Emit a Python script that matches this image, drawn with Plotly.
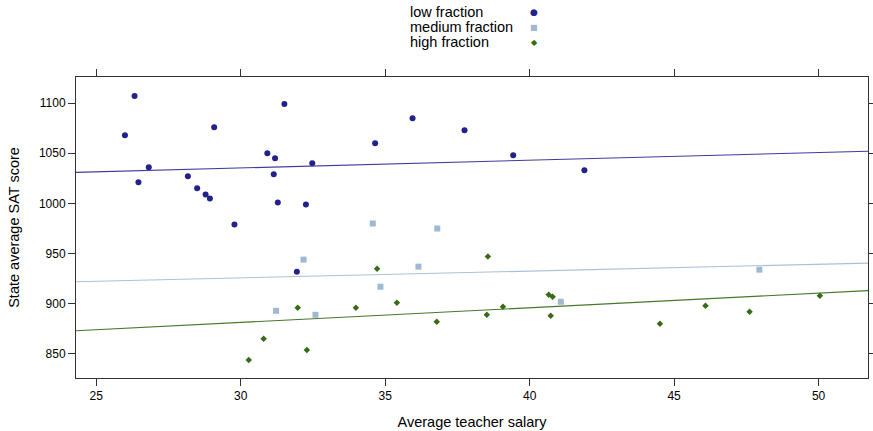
import numpy as np
import plotly.graph_objects as go

# Low fraction states
low_salary = [31.144, 28.934, 29.783, 39.431, 31.511, 34.652, 32.257, 26.461, 41.895, 35.948,
              26.818, 31.189, 28.785, 30.922, 28.493, 26.327, 28.172, 25.994, 32.477, 29.082,
              31.944, 37.746, 31.285]
low_sat = [1029, 1005, 979, 1048, 1099, 1060, 999, 1021, 1033, 1085,
           1036, 1045, 1009, 1050, 1015, 1107, 1027, 1068, 1040, 1076,
           932, 1073, 1001]

# Medium fraction states
med_salary = [47.951, 32.175, 41.078, 34.571, 32.588, 34.836, 36.802, 31.223, 36.151]
med_sat = [934, 944, 902, 980, 889, 917, 975, 893, 937]

# High fraction states
high_salary = [50.045, 39.076, 32.291, 38.518, 36.785, 31.972, 40.661, 40.795, 34.720,
               46.087, 47.612, 30.793, 38.555, 44.510, 40.729, 30.279, 35.406, 33.987]
high_sat = [908, 897, 854, 889, 882, 896, 909, 907, 935,
            898, 892, 865, 947, 880, 888, 844, 901, 896]

group_names = ["low fraction", "medium fraction", "high fraction"]
point_colors = ["#22228c", "#9fb9d2", "#376b16"]
line_colors = ["#3d3d9a", "#a9c1d8", "#45782a"]
symbols = ["circle", "square", "diamond"]
marker_sizes = [6, 6, 5]
legend_glyphs = ["●", "■", "◆"]
glyph_sizes = [9, 8, 8]

x_range = [24.3, 51.71]
y_range = [826, 1126]
x_ticks = [25, 30, 35, 40, 45, 50]
y_ticks = [850, 900, 950, 1000, 1050, 1100]

FONT = "Liberation Sans, Arial, Helvetica, sans-serif"
W, H = 873, 431
ML, MR, MT, MB = 76, 5, 77, 53
PW, PH = W - ML - MR, H - MT - MB


def px_to_paper(px, py):
    # px, py are image pixel positions from the top-left corner
    return (px - ML) / PW, (H - py - MB) / PH


fig = go.Figure()
groups = [(low_salary, low_sat), (med_salary, med_sat), (high_salary, high_sat)]
for i, (xs, ys) in enumerate(groups):
    fig.add_trace(go.Scatter(
        x=xs, y=ys, mode="markers",
        marker=dict(symbol=symbols[i], size=marker_sizes[i], color=point_colors[i], line=dict(width=0)),
        name=group_names[i], showlegend=False))
for i, (xs, ys) in enumerate(groups):
    b, a = np.polyfit(np.array(xs), np.array(ys), 1)
    xe = np.array(x_range)
    fig.add_trace(go.Scatter(
        x=xe, y=a + b * xe, mode="lines",
        line=dict(color=line_colors[i], width=1.1),
        showlegend=False, hoverinfo="skip"))

# lattice-style key: text left, symbol right
legend_y = [12, 27, 42]
for i in range(3):
    tx, ty = px_to_paper(408, legend_y[i])
    fig.add_annotation(x=tx, y=ty, xref="paper", yref="paper", text=group_names[i],
                       showarrow=False, xanchor="left", yanchor="middle",
                       font=dict(family=FONT, size=14.5, color="black"))
    gx, gy = px_to_paper(534, legend_y[i])
    fig.add_annotation(x=gx, y=gy, xref="paper", yref="paper", text=legend_glyphs[i],
                       showarrow=False, xanchor="center", yanchor="middle",
                       font=dict(family="DejaVu Sans", size=glyph_sizes[i], color=point_colors[i]))

fig.update_layout(
    width=W, height=H,
    margin=dict(l=ML, r=MR, t=MT, b=MB, autoexpand=False),
    paper_bgcolor="white", plot_bgcolor="white",
    font=dict(family=FONT, color="black"),
    showlegend=False,
    xaxis=dict(range=x_range, tickvals=x_ticks, ticks="outside", ticklen=7, tickwidth=1,
               tickcolor="#333", showline=True, linecolor="#333", linewidth=1, mirror="allticks",
               showgrid=False, zeroline=False, automargin=False,
               tickfont=dict(size=12, family=FONT),
               title=dict(text="Average teacher salary", font=dict(size=14.5, family=FONT), standoff=14)),
    yaxis=dict(range=y_range, tickvals=y_ticks, ticks="outside", ticklen=7, tickwidth=1,
               tickcolor="#333", showline=True, linecolor="#333", linewidth=1, mirror="allticks",
               showgrid=False, zeroline=False, automargin=False,
               tickfont=dict(size=12, family=FONT),
               title=dict(text="State average SAT score", font=dict(size=14.5, family=FONT), standoff=15)),
)

fig.write_html("out.html", config={"displayModeBar": False},
               post_script="document.body.style.margin='0';")
